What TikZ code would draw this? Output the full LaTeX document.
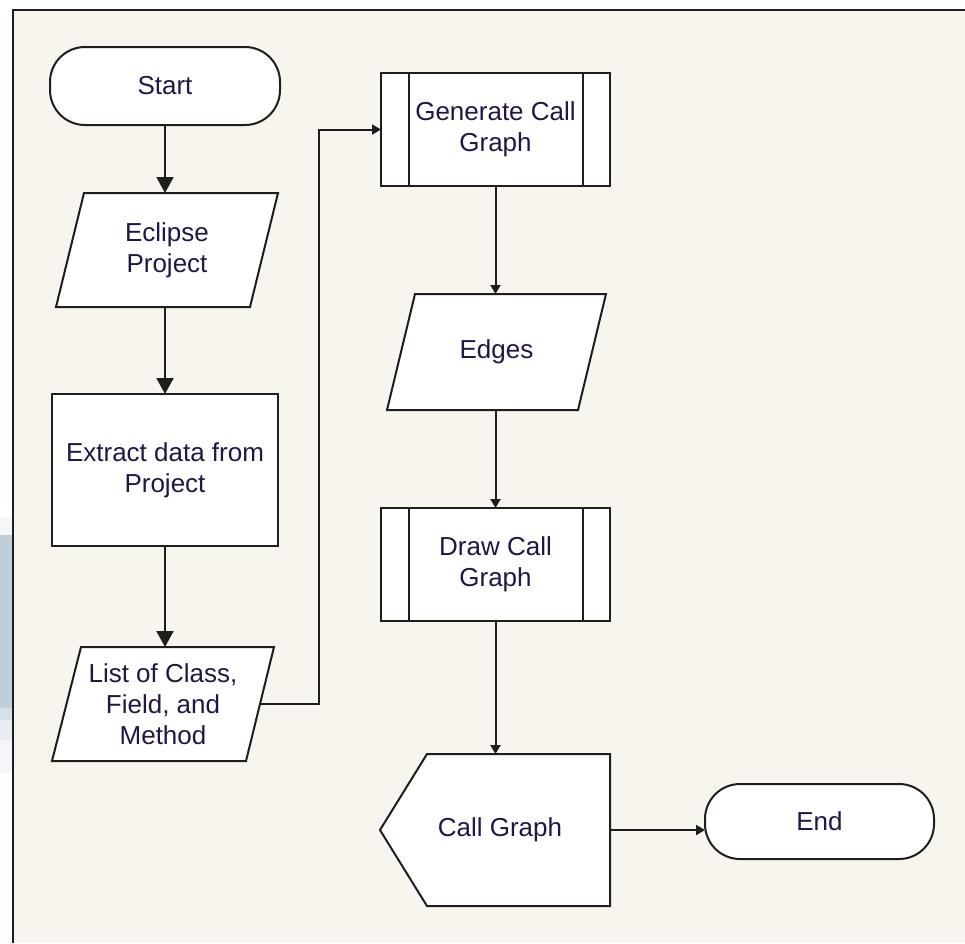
\documentclass[tikz,border=0pt]{standalone}
\usepackage{fontspec}
\setmainfont{Liberation Sans}
\usetikzlibrary{calc,backgrounds,arrows.meta}

\definecolor{paper}{RGB}{248,245,238}
\definecolor{ink}{RGB}{30,30,30}
\definecolor{txt}{RGB}{35,22,68}
\definecolor{sideblue}{RGB}{189,207,216}
\definecolor{sidemid}{RGB}{212,225,232}
\definecolor{sidelight}{RGB}{230,238,243}
\definecolor{sidepale}{RGB}{243,247,250}

\tikzset{
  lbl/.style={font=\fontsize{26}{31}\selectfont, text=txt, align=center,
              inner sep=0pt, outer sep=0pt},
  outline/.style={draw=ink, line width=2pt, fill=white, line join=miter},
  link/.style={draw=ink, line width=2pt},
  bigtip/.style={link, -{Triangle[width=17pt,length=16pt]}},
  smalltip/.style={link, -{Triangle[width=10pt,length=9pt]}},
}

\begin{document}
\begin{tikzpicture}[x=1pt,y=-1pt]
\useasboundingbox (0,0) rectangle (965,943);

% text nodes (outlines are drawn on the background layer)
\node[lbl, minimum width=230pt, minimum height=78pt]  (start) at (165,86)      {Start};
\node[lbl, minimum width=222pt, minimum height=114pt] (ecl)   at (167,250)     {Eclipse\\Project};
\node[lbl, minimum width=226pt, minimum height=152pt] (ext)   at (165,470)     {Extract data from\\Project};
\node[lbl, minimum width=222pt, minimum height=114pt] (lst)   at (163,704)     {List of Class,\\Field, and\\Method};
\node[lbl, minimum width=229pt, minimum height=113pt] (gen)   at (495.5,129.5) {Generate Call\\Graph};
\node[lbl, minimum width=219pt, minimum height=116pt] (edg)   at (496.5,352)   {Edges};
\node[lbl, minimum width=229pt, minimum height=113pt] (drw)   at (495.5,564.5) {Draw Call\\Graph};
\node[lbl, minimum width=230pt, minimum height=152pt] (cg)    at (495,830)     {\hspace*{10pt}Call Graph};
\node[lbl, minimum width=229pt, minimum height=75pt]  (end)   at (819.5,821.5) {End};

\coordinate (lstR) at ($(lst.east)+(-14,0)$);

% connectors
\draw[bigtip] (start.south) -- (start.south |- ecl.north);
\draw[bigtip] (ecl.south -| start.south) -- (ext.north);
\draw[bigtip] (ext.south) -- (ext.south |- lst.north);
\draw[smalltip] (lstR) -- ++(59,0) |- (gen.west);
\draw[smalltip] (gen.south) -- (gen.south |- edg.north);
\draw[smalltip] (edg.south -| gen.south) -- (drw.north);
\draw[smalltip] (drw.south) -- (drw.south |- cg.north);
\draw[smalltip] (cg.east) -- (cg.east -| end.west);

\begin{pgfonlayer}{background}
  % page, side strip and frame
  \fill[white] (0,0) rectangle (965,943);
  \fill[sidepale]  (0,517) rectangle (13,535);
  \fill[sideblue]  (0,535) rectangle (13,708);
  \fill[sidemid]   (0,708) rectangle (13,720);
  \fill[sidelight] (0,720) rectangle (13,740);
  \fill[sidepale]  (0,740) rectangle (13,773);
  \fill[paper] (13,10) rectangle (965,943);
  \draw[ink, line width=2pt] (13,943) -- (13,10) -- (965,10);

  % terminals
  \draw[outline, rounded corners=35pt] (start.north west) rectangle (start.south east);
  \draw[outline, rounded corners=35pt] (end.north west) rectangle (end.south east);

  % data (parallelograms)
  \draw[outline] ($(ecl.north west)+(28,0)$) -- (ecl.north east)
                 -- ($(ecl.south east)+(-28,0)$) -- (ecl.south west) -- cycle;
  \draw[outline] ($(lst.north west)+(29,0)$) -- (lst.north east)
                 -- ($(lst.south east)+(-28,0)$) -- (lst.south west) -- cycle;
  \draw[outline] ($(edg.north west)+(28,0)$) -- (edg.north east)
                 -- ($(edg.south east)+(-28,0)$) -- (edg.south west) -- cycle;

  % process
  \draw[outline] (ext.north west) rectangle (ext.south east);

  % predefined processes
  \foreach \p in {gen,drw}{
    \draw[outline] (\p.north west) rectangle (\p.south east);
    \draw[link] ($(\p.north west)+(28,0)$) -- ($(\p.south west)+(28,0)$);
    \draw[link] ($(\p.north east)+(-27,0)$) -- ($(\p.south east)+(-27,0)$);
  }

  % display
  \draw[outline] (cg.west) -- ($(cg.north west)+(47,0)$) -- (cg.north east)
                 -- (cg.south east) -- ($(cg.south west)+(47,0)$) -- cycle;
\end{pgfonlayer}
\end{tikzpicture}
\end{document}
